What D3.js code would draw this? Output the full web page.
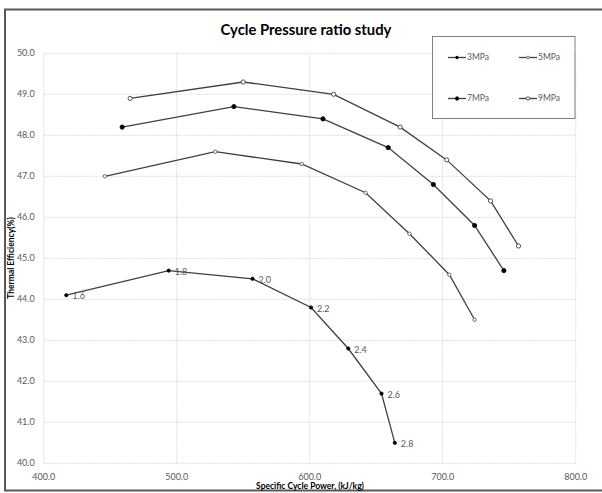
<!DOCTYPE html>
<html>
<head>
<meta charset="utf-8">
<script src="https://cdn.jsdelivr.net/npm/d3@7"></script>
<style>
  body { margin: 0; background: #fff; }
  text { font-family: "Lato", "Open Sans", sans-serif; }
</style>
</head>
<body>
<div id="chart"></div>
<script>
// chart values
const seriesNames = ["3MPa", "5MPa", "7MPa", "9MPa"];
const ratioLabels = ["1.6", "1.8", "2.0", "2.2", "2.4", "2.6", "2.8"];
const p3x = [417, 494, 557, 601, 629, 654, 664];
const p3y = [44.1, 44.7, 44.5, 43.8, 42.8, 41.7, 40.5];
const p5x = [446, 529, 594, 642, 675, 705, 724];
const p5y = [47.0, 47.6, 47.3, 46.6, 45.6, 44.6, 43.5];
const p7x = [459, 543, 610, 659, 693, 724, 746];
const p7y = [48.2, 48.7, 48.4, 47.7, 46.8, 45.8, 44.7];
const p9x = [465, 550, 618, 668, 703, 736, 757];
const p9y = [48.9, 49.3, 49.0, 48.2, 47.4, 46.4, 45.3];
const xTicks = [400, 500, 600, 700, 800];
const yTicks = [40, 41, 42, 43, 44, 45, 46, 47, 48, 49, 50];

const width = 602, height = 493;
const margin = {top: 53.3, right: 26.3, bottom: 29.7, left: 43.7};

var fmt = d3.format(".1f");

var svg = d3.select("#chart").append("svg")
  .attr("width", width)
  .attr("height", height);

// outer chart frame
svg.append("rect")
  .attr("x", 5).attr("y", 9.5)
  .attr("width", 610).attr("height", 481)
  .attr("fill", "none")
  .attr("stroke", "#595959")
  .attr("stroke-width", 2);

var x = d3.scaleLinear().domain([400, 800]).range([margin.left, width - margin.right]);
var y = d3.scaleLinear().domain([40, 50]).range([height - margin.bottom, margin.top]);

// grid
var grid = svg.append("g")
  .attr("stroke", "#c8c8c8")
  .attr("stroke-width", 0.7)
  .attr("stroke-dasharray", "1.5,1");
grid.selectAll(".hg").data(yTicks).enter().append("line")
  .attr("x1", x(400)).attr("x2", x(800))
  .attr("y1", d => y(d)).attr("y2", d => y(d));
grid.selectAll(".vg").data(xTicks).enter().append("line")
  .attr("x1", d => x(d)).attr("x2", d => x(d))
  .attr("y1", y(40)).attr("y2", y(50));

// tick labels
svg.append("g").selectAll("text").data(yTicks).enter().append("text")
  .attr("x", x(400) - 9)
  .attr("y", d => y(d))
  .attr("dy", "0.35em")
  .attr("text-anchor", "end")
  .attr("font-size", 9)
  .attr("fill", "#595959")
  .text(d => fmt(d));
svg.append("g").selectAll("text").data(xTicks).enter().append("text")
  .attr("x", d => x(d))
  .attr("y", 480)
  .attr("text-anchor", "middle")
  .attr("font-size", 9)
  .attr("fill", "#595959")
  .text(d => fmt(d));

// titles
svg.append("text")
  .attr("x", 306).attr("y", 35)
  .attr("text-anchor", "middle")
  .attr("font-size", 14.8)
  .attr("font-weight", "bold")
  .attr("fill", "#000")
  .text("Cycle Pressure ratio study");
svg.append("text")
  .attr("x", 310).attr("y", 489)
  .attr("text-anchor", "middle")
  .attr("font-size", 8.5)
  .attr("font-weight", "bold")
  .attr("fill", "#000")
  .text("Specific Cycle Power, (kJ/kg)");
svg.append("text")
  .attr("transform", "translate(14,258) rotate(-90)")
  .attr("text-anchor", "middle")
  .attr("font-size", 8.5)
  .attr("font-weight", "bold")
  .attr("fill", "#000")
  .text("Thermal Efficiency(%)");

// series
var series = [
  {name: seriesNames[0], xs: p3x, ys: p3y, r: 1.6, fill: "#000", stroke: "#000"},
  {name: seriesNames[1], xs: p5x, ys: p5y, r: 1.7, fill: "#fff", stroke: "#595959"},
  {name: seriesNames[2], xs: p7x, ys: p7y, r: 2.1, fill: "#000", stroke: "#000"},
  {name: seriesNames[3], xs: p9x, ys: p9y, r: 2.1, fill: "#fff", stroke: "#404040"}
];

var line = d3.line().x(d => x(d[0])).y(d => y(d[1]));

series.forEach(function(s) {
  var pts = s.xs.map((v, i) => [v, s.ys[i]]);
  svg.append("path")
    .datum(pts)
    .attr("d", line)
    .attr("fill", "none")
    .attr("stroke", "#404040")
    .attr("stroke-width", 1.3);
  svg.append("g").selectAll("circle").data(pts).enter().append("circle")
    .attr("cx", d => x(d[0]))
    .attr("cy", d => y(d[1]))
    .attr("r", s.r)
    .attr("fill", s.fill)
    .attr("stroke", s.stroke)
    .attr("stroke-width", 0.9);
});

// pressure ratio labels on the 3MPa line
svg.append("g").selectAll("text").data(p3x).enter().append("text")
  .attr("x", d => x(d) + 6)
  .attr("y", (d, i) => y(p3y[i]) + 1)
  .attr("dy", "0.35em")
  .attr("font-size", 9)
  .attr("fill", "#595959")
  .text((d, i) => ratioLabels[i]);

// legend
var legend = svg.append("g");
legend.append("rect")
  .attr("x", 432.5).attr("y", 36.5)
  .attr("width", 142.5).attr("height", 82)
  .attr("fill", "#fff")
  .attr("stroke", "#7f7f7f")
  .attr("stroke-width", 1);
var legPos = [[448, 57.5], [519, 57.5], [448, 98.5], [519, 98.5]];
series.forEach(function(s, i) {
  var p = legPos[i];
  legend.append("line")
    .attr("x1", p[0]).attr("x2", p[0] + 18)
    .attr("y1", p[1]).attr("y2", p[1])
    .attr("stroke", "#404040")
    .attr("stroke-width", 1.3);
  legend.append("circle")
    .attr("cx", p[0] + 9).attr("cy", p[1])
    .attr("r", s.r * 0.8)
    .attr("fill", s.fill)
    .attr("stroke", s.stroke)
    .attr("stroke-width", 0.9);
  legend.append("text")
    .attr("x", p[0] + 19).attr("y", p[1])
    .attr("dy", "0.35em")
    .attr("font-size", 8.5)
    .attr("fill", "#595959")
    .text(s.name);
});
</script>
</body>
</html>
